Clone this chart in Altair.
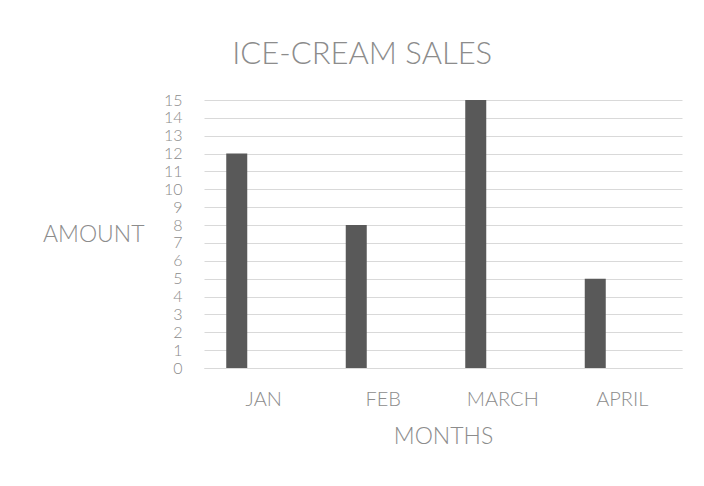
import altair as alt
import pandas as pd

months = ["JAN", "FEB", "MARCH", "APRIL"]
amounts = [12, 8, 15, 5]
y_ticks = list(range(0, 16))

df = pd.DataFrame({"month": months, "amount": amounts})

FONT = "Lato"
TXT = "#8c8c8c"

chart = alt.Chart(df).mark_bar(width=21, xOffset=-27, color="#595959").encode(
    x=alt.X("month:N", sort=months,
            scale=alt.Scale(paddingInner=0, paddingOuter=0),
            axis=alt.Axis(title="MONTHS", labelAngle=0, ticks=False,
                          labelPadding=21, titlePadding=16,
                          domainColor="#d9d9d9", domainWidth=1,
                          labelFont=FONT, labelFontSize=20, labelFontWeight=300,
                          labelColor=TXT, titleFont=FONT, titleFontSize=23,
                          titleFontWeight=300, titleColor=TXT)),
    y=alt.Y("amount:Q", scale=alt.Scale(domain=[0, 15], nice=False),
            axis=alt.Axis(title="AMOUNT", values=y_ticks, ticks=False, domain=False,
                          labelPadding=22, gridColor="#d9d9d9", gridWidth=1,
                          labelFont=FONT, labelFontSize=16, labelFontWeight=300,
                          labelColor=TXT, labelOverlap=False,
                          titleFont=FONT, titleFontSize=23, titleFontWeight=300,
                          titleColor=TXT, titleAngle=0, titleAlign="right",
                          titleBaseline="middle", titleX=-60, titleY=134)),
).properties(
    width=478, height=268,
    title=alt.TitleParams("ICE-CREAM SALES", font=FONT, fontSize=31, fontWeight=300,
                          color=TXT, anchor="middle", frame="bounds", offset=21),
    padding={"left": 34, "top": 31, "right": 10, "bottom": 10},
).configure_view(stroke=None).configure_axisX(grid=False)

chart.save("out.html", embed_options={"renderer": "svg", "actions": False})
